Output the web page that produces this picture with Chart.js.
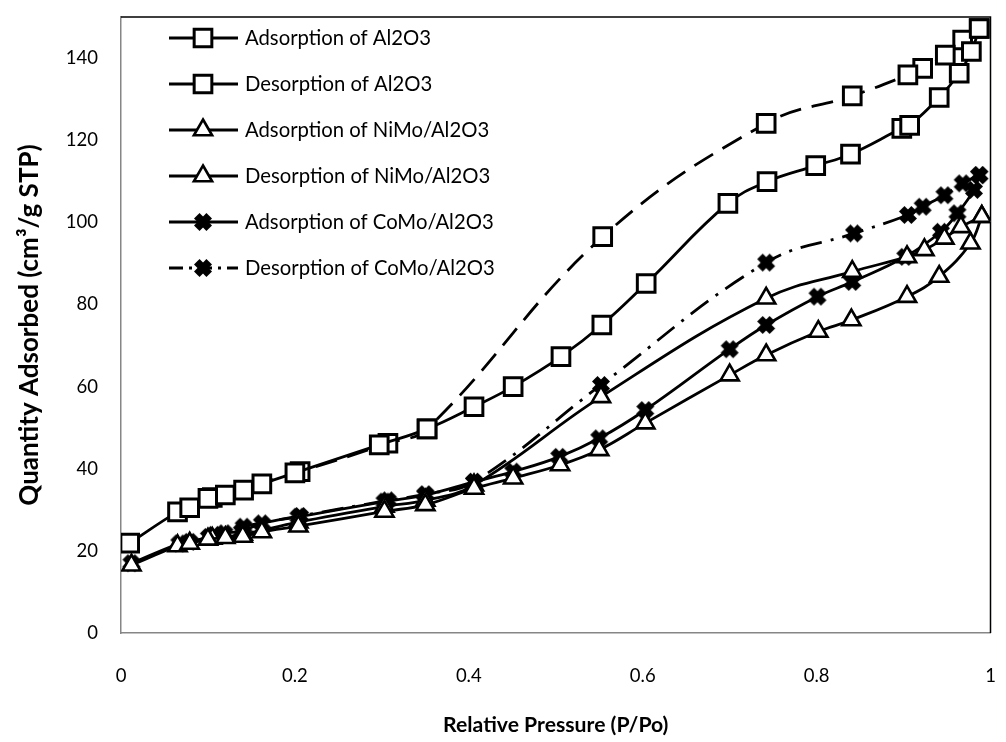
<!DOCTYPE html>
<html>
<head>
<meta charset="utf-8">
<script src="https://cdn.jsdelivr.net/npm/chart.js@4.4.0/dist/chart.umd.min.js"></script>
<style>
  html, body { margin: 0; padding: 0; background: #ffffff; }
  #wrap { width: 1006px; height: 742px; }
</style>
</head>
<body>
<div id="wrap"><canvas id="chart" width="1006" height="742"></canvas></div>
<script>
// Relative pressure (P/Po) and quantity adsorbed (cm3/g STP)
const al2o3AdsP = [0.010, 0.065, 0.079, 0.100, 0.120, 0.141, 0.162, 0.200, 0.297, 0.352, 0.406, 0.451, 0.506, 0.553, 0.604, 0.698, 0.743, 0.799, 0.839, 0.898, 0.907, 0.941, 0.964, 0.978, 0.987];
const al2o3AdsQ = [21.9, 29.5, 30.5, 32.8, 33.6, 34.8, 36.3, 39.0, 45.8, 49.7, 55.1, 60.0, 67.3, 75.0, 85.1, 104.6, 109.9, 113.8, 116.6, 122.9, 123.6, 130.4, 136.3, 141.6, 147.2];

const al2o3DesP = [0.987, 0.968, 0.948, 0.922, 0.905, 0.841, 0.742, 0.554, 0.352, 0.307, 0.206, 0.105];
const al2o3DesQ = [147.2, 144.4, 140.7, 137.5, 135.9, 130.8, 124.1, 96.5, 49.7, 46.2, 39.3, 33.0];

const nimoAdsP = [0.012, 0.065, 0.079, 0.100, 0.120, 0.140, 0.162, 0.204, 0.303, 0.350, 0.406, 0.451, 0.505, 0.550, 0.603, 0.700, 0.742, 0.802, 0.840, 0.904, 0.941, 0.977, 0.990];
const nimoAdsQ = [16.5, 21.2, 21.8, 22.8, 23.2, 23.5, 24.6, 26.0, 29.6, 31.2, 35.2, 37.7, 40.9, 44.6, 51.1, 62.8, 67.7, 73.4, 76.2, 81.9, 86.8, 94.9, 101.4];

const nimoDesP = [0.990, 0.966, 0.947, 0.924, 0.904, 0.841, 0.742, 0.552, 0.406, 0.350, 0.303, 0.204, 0.140, 0.105];
const nimoDesQ = [101.4, 98.9, 96.1, 93.3, 91.6, 88.0, 81.5, 57.5, 36.0, 32.3, 30.8, 27.0, 24.0, 23.0];

const comoAdsP = [0.012, 0.067, 0.079, 0.101, 0.119, 0.139, 0.162, 0.204, 0.303, 0.350, 0.406, 0.451, 0.504, 0.550, 0.603, 0.700, 0.742, 0.801, 0.841, 0.902, 0.943, 0.962, 0.981, 0.987];
const comoAdsQ = [17.0, 21.8, 22.2, 23.4, 24.3, 24.8, 26.7, 28.3, 32.0, 33.6, 36.8, 39.3, 42.9, 47.4, 54.3, 69.1, 75.0, 81.9, 85.5, 91.6, 97.7, 102.2, 107.9, 111.5];

const comoDesP = [0.987, 0.968, 0.947, 0.922, 0.905, 0.843, 0.742, 0.552, 0.406, 0.350, 0.307, 0.206, 0.141, 0.107];
const comoDesQ = [111.5, 109.5, 106.6, 103.8, 101.8, 97.3, 90.2, 60.4, 36.8, 33.8, 32.3, 28.5, 25.9, 23.9];

const seriesNames = [
    'Adsorption of Al2O3',
    'Desorption of Al2O3',
    'Adsorption of NiMo/Al2O3',
    'Desorption of NiMo/Al2O3',
    'Adsorption of CoMo/Al2O3',
    'Desorption of CoMo/Al2O3'
];

const xTicks = [0, 0.2, 0.4, 0.6, 0.8, 1];
const yTicks = [0, 20, 40, 60, 80, 100, 120, 140];

const FONT = 'Lato, "Noto Sans", sans-serif';

function toPoints(xs, ys) {
    return xs.map((x, i) => ({ x: x, y: ys[i] }));
}

// Fat filled X, like the spreadsheet's "x" marker
function makeCross() {
    const c = document.createElement('canvas');
    c.width = 20;
    c.height = 20;
    const g = c.getContext('2d');
    g.fillStyle = '#000000';
    g.translate(10, 10);
    g.rotate(Math.PI / 4);
    g.fillRect(-8.8, -3.9, 17.6, 7.8);
    g.fillRect(-3.9, -8.8, 7.8, 17.6);
    return c;
}
const crossImg = makeCross();

// Marker looks for each series
const markers = [
    { pointStyle: 'rect', radius: 12.5, fill: '#ffffff', border: 3 },
    { pointStyle: 'rect', radius: 12.5, fill: '#ffffff', border: 3 },
    { pointStyle: 'triangle', radius: 10.5, fill: '#ffffff', border: 2.6 },
    { pointStyle: 'triangle', radius: 10.5, fill: '#ffffff', border: 2.6 },
    { pointStyle: crossImg, radius: 9, fill: '#000000', border: 0 },
    { pointStyle: crossImg, radius: 9, fill: '#000000', border: 0 }
];
const dashes = [[], [22, 11], [], [], [], [22, 9, 3, 9]];
const legendDashes = [[], [], [], [], [], [14, 6, 3, 6]];

const pointSets = [
    toPoints(al2o3AdsP, al2o3AdsQ),
    toPoints(al2o3DesP, al2o3DesQ),
    toPoints(nimoAdsP, nimoAdsQ),
    toPoints(nimoDesP, nimoDesQ),
    toPoints(comoAdsP, comoAdsQ),
    toPoints(comoDesP, comoDesQ)
];

const datasets = pointSets.map((pts, i) => ({
    label: seriesNames[i],
    data: pts,
    showLine: true,
    tension: 0.4,
    borderColor: '#000000',
    borderWidth: 2.8,
    borderDash: dashes[i],
    pointStyle: markers[i].pointStyle,
    pointRadius: markers[i].radius,
    pointBackgroundColor: markers[i].fill,
    pointBorderColor: '#000000',
    pointBorderWidth: markers[i].border
}));

// Legend sits inside the plot, top-left, with no frame
const insideLegend = {
    id: 'insideLegend',
    afterDraw(chart) {
        const ctx = chart.ctx;
        ctx.save();
        seriesNames.forEach((name, i) => {
            const y = 38 + 46 * i;
            ctx.strokeStyle = '#000000';
            ctx.lineWidth = 2.8;
            ctx.setLineDash(legendDashes[i]);
            ctx.beginPath();
            ctx.moveTo(169, y);
            ctx.lineTo(238, y);
            ctx.stroke();
            ctx.setLineDash([]);
            const m = markers[i];
            if (typeof m.pointStyle === 'string') {
                ctx.fillStyle = m.fill;
                ctx.lineWidth = m.border;
                Chart.helpers.drawPoint(ctx, {
                    pointStyle: m.pointStyle,
                    radius: m.radius,
                    rotation: 0,
                    borderWidth: m.border
                }, 203, y);
            } else {
                ctx.drawImage(m.pointStyle, 203 - m.pointStyle.width / 2, y - m.pointStyle.height / 2);
            }
            ctx.fillStyle = '#000000';
            ctx.font = '20.3px ' + FONT;
            ctx.textAlign = 'left';
            ctx.textBaseline = 'middle';
            ctx.fillText(name, 245, y);
        });
        ctx.restore();
    }
};

// Dark frame on the top and right edges of the plot
const plotFrame = {
    id: 'plotFrame',
    beforeDatasetsDraw(chart) {
        const a = chart.chartArea;
        const ctx = chart.ctx;
        ctx.save();
        ctx.strokeStyle = '#000000';
        ctx.lineWidth = 1.5;
        ctx.beginPath();
        ctx.moveTo(a.left, a.top);
        ctx.lineTo(a.right, a.top);
        ctx.lineTo(a.right, a.bottom);
        ctx.stroke();
        ctx.restore();
    }
};

function noPadding(scale) {
    scale.paddingLeft = 0;
    scale.paddingRight = 0;
    scale.paddingTop = 0;
    scale.paddingBottom = 0;
}

new Chart(document.getElementById('chart'), {
    type: 'scatter',
    data: { datasets: datasets },
    options: {
        responsive: false,
        animation: false,
        devicePixelRatio: 1,
        layout: { padding: { top: 17, right: 8, left: 0, bottom: 0 } },
        plugins: {
            legend: { display: false },
            tooltip: { enabled: false }
        },
        scales: {
            x: {
                type: 'linear',
                min: 0,
                max: 1,
                afterBuildTicks: (scale) => { scale.ticks = xTicks.map(v => ({ value: v })); },
                afterFit: (scale) => { scale.height = 109; noPadding(scale); },
                ticks: {
                    color: '#000000',
                    font: { family: FONT, size: 18.5 },
                    padding: 32,
                    maxRotation: 0,
                    callback: (v) => String(v)
                },
                grid: { display: false, drawTicks: false },
                border: { color: '#868686', width: 1.5 },
                title: {
                    display: true,
                    text: 'Relative Pressure (P/Po)',
                    color: '#000000',
                    font: { family: FONT, size: 21.2, weight: 'bold' },
                    padding: { top: 16 }
                }
            },
            y: {
                type: 'linear',
                min: 0,
                max: 150,
                afterBuildTicks: (scale) => { scale.ticks = yTicks.map(v => ({ value: v })); },
                afterFit: (scale) => { scale.width = 121; noPadding(scale); },
                ticks: {
                    color: '#000000',
                    font: { family: FONT, size: 18.5 },
                    padding: 23
                },
                grid: { display: false, drawTicks: false },
                border: { color: '#868686', width: 1.5 },
                title: {
                    display: true,
                    text: 'Quantity Adsorbed (cm³/g STP)',
                    color: '#000000',
                    font: { family: FONT, size: 26, weight: 'bold' },
                    padding: { top: 14, bottom: 0 }
                }
            }
        }
    },
    plugins: [plotFrame, insideLegend]
});
</script>
</body>
</html>
